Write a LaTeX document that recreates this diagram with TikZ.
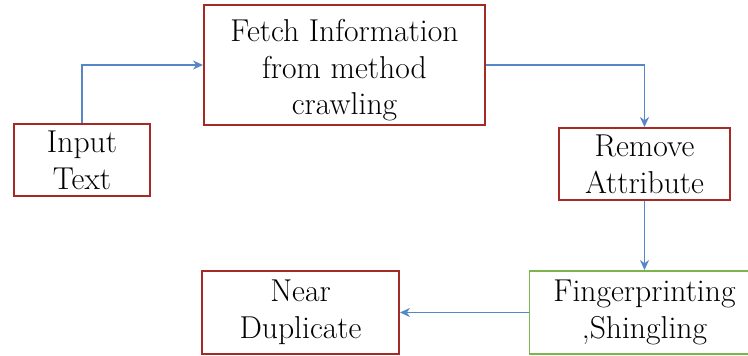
\documentclass[tikz,border=0pt]{standalone}
\usetikzlibrary{arrows.meta, positioning}
\definecolor{boxred}{RGB}{165,42,38}
\definecolor{boxgreen}{RGB}{125,180,75}
\definecolor{flowblue}{RGB}{85,135,200}

\begin{document}
\begin{tikzpicture}[
  every node/.style={rectangle, draw=boxred, line width=1.1pt,
    align=center, font=\fontsize{18}{21}\selectfont, inner sep=0pt},
  flow/.style={draw=flowblue, line width=1pt, -{Stealth[length=2mm,width=1.8mm]}}
]
\useasboundingbox (0,0) rectangle (14.96,7.1);

\node (input)  [minimum width=2.72cm, minimum height=1.44cm] at (1.64,3.9) {Input\\Text};
\node (fetch)  [minimum width=5.62cm, minimum height=2.4cm] at (6.89,5.8) {\rule{0pt}{0.65cm}Fetch Information\\from method\\crawling};
\node (remove) [minimum width=3.42cm, minimum height=1.44cm] at (12.89,3.82) {Remove\\Attribute};
\node (finger) [draw=boxgreen, minimum width=4.6cm, minimum height=1.66cm] at (12.89,0.85) {Fingerprinting\\,Shingling};
\node (near)   [minimum width=3.94cm, minimum height=1.66cm] at (6.01,0.85) {Near\\Duplicate};

\draw[flow] (input.north) |- (fetch.west);
\draw[flow] (fetch.east) -| (remove.north);
\draw[flow] (remove.south) -- (finger.north);
\draw[flow] (finger.west) -- (near.east);

\end{tikzpicture}
\end{document}
